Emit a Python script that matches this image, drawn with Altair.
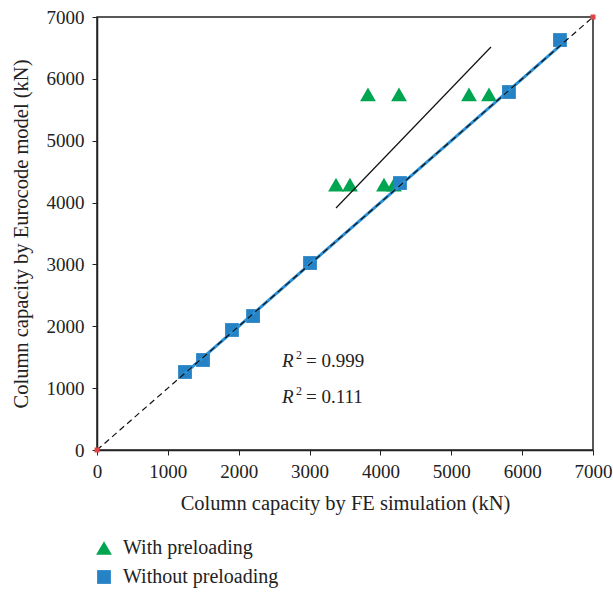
import altair as alt
import pandas as pd

# ---- data ----
sq_x = [1242, 1496, 1905, 2202, 3006, 4276, 5814, 6534]
sq_y = [1261, 1455, 1940, 2166, 3023, 4316, 5787, 6628]

tri_x = [3373, 3570, 4050, 4191, 3824, 4262, 5250, 5532]
tri_y = [4290, 4290, 4290, 4290, 5750, 5750, 5750, 5750]

series_names = ["With preloading", "Without preloading"]

fit_with_x = [3373, 5560]
fit_with_y = [3912, 6515]

fit_without_x = [1240, 6560]
fit_without_y = [1240, 6560]

ident_x = [0, 7000]
ident_y = [0, 7000]

ticks = [0, 1000, 2000, 3000, 4000, 5000, 6000, 7000]

r2_labels = ["= 0.999", "= 0.111"]
r2_x = [2611, 2611]
r2_y = [1342, 760]

FONT = "Liberation Serif"
GREEN = "#00a551"
BLUE = "#2582c4"

pts = pd.DataFrame(
    {"x": tri_x + sq_x, "y": tri_y + sq_y,
     "series": [series_names[0]] * len(tri_x) + [series_names[1]] * len(sq_x)}
)
ident = pd.DataFrame({"x": ident_x, "y": ident_y})
fit1 = pd.DataFrame({"x": fit_with_x, "y": fit_with_y})
fit2 = pd.DataFrame({"x": fit_without_x, "y": fit_without_y})
r2 = pd.DataFrame({"x": r2_x, "y": r2_y, "t": r2_labels})

xs = alt.Scale(domain=[0, 7000], nice=False)
ys = alt.Scale(domain=[0, 7000], nice=False)

X = alt.X("x:Q", scale=xs, axis=alt.Axis(
    values=ticks, title="Column capacity by FE simulation (kN)", grid=False,
    tickSize=5, labelPadding=7, titlePadding=12, format="d", labelFlush=False))
Y = alt.Y("y:Q", scale=ys, axis=alt.Axis(
    values=ticks, title="Column capacity by Eurocode model (kN)", grid=False,
    tickSize=5, labelPadding=8, titlePadding=15, format="d", labelFlush=False))

points = alt.Chart(pts).mark_point(filled=True, opacity=1).encode(
    x=X, y=Y,
    color=alt.Color("series:N", scale=alt.Scale(domain=series_names, range=[GREEN, BLUE]),
                    legend=alt.Legend(title=None, orient="none", legendX=-3, legendY=521,
                                      labelFont=FONT, labelFontSize=20, labelColor="#222",
                                      symbolSize=160, rowPadding=9, labelOffset=9,
                                      padding=0)),
    shape=alt.Shape("series:N", scale=alt.Scale(domain=series_names, range=["triangle-up", "square"]),
                    legend=None),
    size=alt.Size("series:N", scale=alt.Scale(domain=series_names, range=[250, 190]), legend=None),
)

fit_without = alt.Chart(fit2).mark_line(color="#2a8fd4", strokeWidth=3).encode(x="x:Q", y="y:Q")
ident_line = alt.Chart(ident).mark_line(color="#111", strokeWidth=1.2, strokeDash=[6, 4]).encode(x="x:Q", y="y:Q")
fit_with = alt.Chart(fit1).mark_line(color="#111", strokeWidth=1.2).encode(x="x:Q", y="y:Q")
red = alt.Chart(ident).mark_square(color="#e04444", size=25, opacity=1).encode(x="x:Q", y="y:Q")

rtxt = alt.Chart(r2).mark_text(font=FONT, fontSize=19, fontStyle="italic", align="left",
                               baseline="alphabetic", color="#222").encode(
    x="x:Q", y="y:Q", text=alt.value("R"))
sup = alt.Chart(r2).mark_text(font=FONT, fontSize=12, align="left", baseline="alphabetic",
                              dx=14, dy=-8, color="#222").encode(
    x="x:Q", y="y:Q", text=alt.value("2"))
eq = alt.Chart(r2).mark_text(font=FONT, fontSize=19, align="left", baseline="alphabetic",
                             dx=24, color="#222").encode(
    x="x:Q", y="y:Q", text="t:N")

chart = alt.layer(points, fit_without, ident_line, fit_with, red, rtxt, sup, eq).properties(
    width=496, height=433,
    autosize=alt.AutoSizeParams(type="none"),
    padding={"left": 97, "top": 17, "right": 20, "bottom": 143},
).configure_view(stroke="#222", strokeWidth=1.5).configure_axis(
    labelFont=FONT, titleFont=FONT, labelFontSize=19, titleFontSize=20.5,
    labelColor="#222", titleColor="#222", titleFontWeight="normal",
    domainColor="#222", tickColor="#222", domainWidth=1.5,
)

chart.save("out.html", embed_options={"renderer": "svg", "actions": False})
